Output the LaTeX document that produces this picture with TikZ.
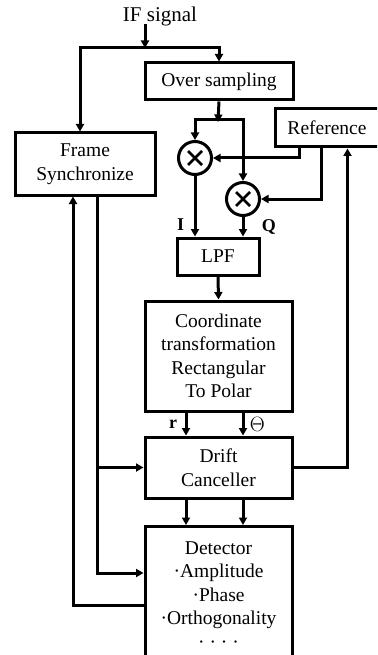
\documentclass[tikz,border=0pt]{standalone}
\usepackage{fontspec}
\setmainfont{Liberation Serif}
\usetikzlibrary{arrows.meta,positioning,calc}
\newcommand{\blkfont}{\fontsize{19.5}{23.5}\selectfont}
\tikzset{every picture/.style={line width=3pt}}

\begin{document}
\begin{tikzpicture}[x=1pt, y=-1pt, line width=3pt, >={Triangle[length=7.5pt,width=8pt]},
    blk/.style={draw, align=center, font=\blkfont, inner sep=0pt},
    mix/.style={draw, circle, minimum size=33pt, inner sep=0pt},
    lbl/.style={font=\fontsize{18}{20}\selectfont\bfseries}]
    \useasboundingbox (0,0) rectangle (377,655);
    \clip (0,0) rectangle (377,655);

    % 入力信号
    \node[font=\fontsize{21}{24}\selectfont] (ifsig) at (160,16) {IF signal};
    \coordinate (split) at (145,48);

    % 各ブロック
    \node[blk, minimum width=148pt, minimum height=37pt] (os) at (219,81.5) {Over sampling};
    \node[blk, minimum width=106pt, minimum height=38pt] (ref) at (328,128) {\hspace*{-2pt}Reference};
    \node[blk, minimum width=140pt, minimum height=62pt] (fs) at (85,164) {Frame\\Synchronize};
    \node[mix] (m1) at (195,158) {};
    \node[mix] (m2) at (243,199) {};
    \node[blk, minimum width=82pt, minimum height=37pt] (lpf) at (218,256.5) {LPF};
    \node[blk, minimum width=147pt, minimum height=110pt] (ct) at (218.5,356) {Coordinate\\transformation\\Rectangular\\To Polar};
    \node[blk, minimum width=147pt, minimum height=61pt] (dc) at (218.5,467.5) {Drift\\Canceller};
    \node[blk, minimum width=147pt, minimum height=138pt, anchor=north] (det) at (218.5,525)
        {\\[-12pt]Detector\\·Amplitude\\·Phase\\·Orthogonality\\· · · ·};

    % 乗算器の記号
    \foreach \m in {m1,m2}{
        \draw[line width=2.6pt] ($(\m)+(-7,-7)$) -- ($(\m)+(7,7)$);
        \draw[line width=2.6pt] ($(\m)+(-7,7)$) -- ($(\m)+(7,-7)$);
    }

    % IF信号の分配
    \draw[->] ([yshift=6pt]ifsig.south -| split) -- (split);
    \draw[->] (split) -| (os.north);
    \draw[->] (split) -| ($(fs.north)+(-5,0)$);

    % オーバーサンプリングから乗算器へ
    \coordinate (split2) at (218,120);
    \draw[->] (os.south) -- ([yshift=-2pt]split2);
    \draw[->] (split2) -| (m1.north);
    \draw[->] (split2) -| (m2.north);

    % 参照信号
    \draw[->] ($(ref.south west)+(26,0)$) |- (m1.east);
    \draw[->] ($(ref.south west)+(48,0)$) |- (m2.east);

    % I/Q 出力
    \draw[->] (m1.south) -- (m1 |- lpf.north) node[lbl, pos=0.8, left=6pt] {I};
    \draw[->] (m2.south) -- (m2 |- lpf.north) node[lbl, pos=0.5, right=14pt] {Q};
    \draw[->] (lpf.south) -- (ct.north);

    % 極座標 r, Θ
    \draw[->] ($(ct.south)+(-32.5,0)$) -- ($(dc.north)+(-32.5,0)$) node[lbl, midway, left=4pt] {r};
    \draw[->] ($(ct.south)+(24.5,0)$) -- ($(dc.north)+(24.5,0)$) node[midway, right=2pt, font=\fontsize{20}{22}\selectfont] {$\Theta$};
    \draw[->] ($(dc.south)+(-32.5,0)$) -- ($(det.north)+(-32.5,0)$);
    \draw[->] ($(dc.south)+(24.5,0)$) -- ($(det.north)+(24.5,0)$);

    % 帰還ループ
    \draw[->] (dc.east) -| ($(ref.south west)+(74,0)$);
    \coordinate (fsout) at ($(fs.south)+(12,0)$);
    \draw[->] (fsout) |- (dc.west);
    \draw[->] (fsout) |- ($(det.north west)+(0,48)$);
    \draw[->] ($(det.north west)+(0,80)$) -| ($(fs.south)+(-12,0)$);
\end{tikzpicture}
\end{document}
